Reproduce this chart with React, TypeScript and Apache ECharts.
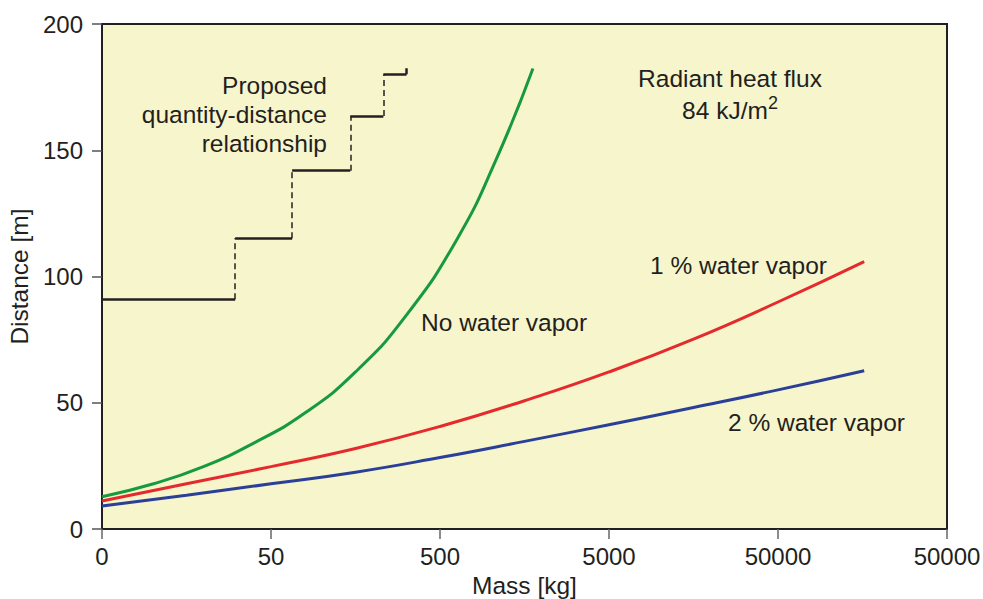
import React, { useEffect, useRef } from "react";
import * as echarts from "echarts";

// x positions are in axis-tick units (evenly spaced log-mass ticks)
const xTickLabels = ["0", "50", "500", "5000", "50000", "50000"];
const yTicks = [0, 50, 100, 150, 200];

const noVaporX = [0, 0.3, 0.6, 0.9, 1.2, 1.5, 1.8, 2.1, 2.33, 2.55];
const noVaporY = [12.8, 17.8, 24.7, 34.1, 45.9, 62.2, 84.6, 114.7, 146.0, 182.4];

const vapor1X = [0, 0.5, 1.0, 1.5, 2.0, 2.5, 3.0, 3.5, 4.0, 4.51];
const vapor1Y = [11.1, 17.9, 24.7, 31.9, 40.6, 50.8, 62.2, 75.2, 89.9, 105.9];

const vapor2X = [0, 0.5, 1.0, 1.5, 2.0, 2.5, 3.0, 3.5, 4.0, 4.51];
const vapor2Y = [9.1, 13.4, 17.9, 22.5, 28.3, 34.7, 41.3, 48.1, 55.1, 62.7];

// proposed quantity-distance step relationship
const stepX = [0, 0.788, 1.125, 1.469, 1.665, 1.802];
const stepY = [91, 115.1, 141.9, 163.6, 180.1];
const stepEndTop = 182.5;

const FONT = "'Liberation Sans', Arial, Helvetica, sans-serif";
const INK = "#231f20";

function zip(xs: number[], ys: number[]) {
  return xs.map((x, i) => [x, ys[i]]);
}

export default function App() {
  const ref = useRef<HTMLDivElement>(null);

  useEffect(() => {
    if (!ref.current) return;
    const chart = echarts.init(ref.current, undefined, { renderer: "svg" });

    const solidSegs: any[] = [];
    const dashSegs: any[] = [];
    for (let i = 0; i < stepY.length; i++) {
      solidSegs.push({ coords: [[stepX[i], stepY[i]], [stepX[i + 1], stepY[i]]] });
      if (i + 1 < stepY.length) {
        dashSegs.push({ coords: [[stepX[i + 1], stepY[i]], [stepX[i + 1], stepY[i + 1]]] });
      }
    }
    const last = stepX[stepX.length - 1];
    solidSegs.push({ coords: [[last, stepY[stepY.length - 1]], [last, stepEndTop]] });

    const textStyle = (extra: any) => ({
      fontFamily: FONT,
      fontSize: 24.5,
      fill: INK,
      ...extra,
    });

    const curve = (xs: number[], ys: number[], color: string) => ({
      type: "line",
      data: zip(xs, ys),
      smooth: true,
      symbol: "none",
      lineStyle: { color, width: 3 },
    });

    chart.setOption({
      animation: false,
      grid: {
        left: 102,
        top: 24,
        right: 36,
        bottom: 70,
        containLabel: false,
        outerBoundsMode: "none",
        show: true,
        backgroundColor: "#f7f5cb",
        borderColor: INK,
        borderWidth: 2,
      },
      xAxis: {
        type: "value",
        min: 0,
        max: 5,
        interval: 1,
        name: "Mass [kg]",
        nameLocation: "middle",
        nameGap: 44,
        nameTextStyle: { fontFamily: FONT, fontSize: 24.5, color: INK },
        axisLine: { lineStyle: { color: INK, width: 2 } },
        axisTick: { show: true, length: 10, lineStyle: { color: "#666", width: 1.5 } },
        axisLabel: {
          margin: 15,
          fontFamily: FONT,
          fontSize: 24,
          color: INK,
          formatter: (v: number) => xTickLabels[Math.round(v)] ?? "",
        },
        splitLine: { show: false },
      },
      yAxis: {
        type: "value",
        min: yTicks[0],
        max: yTicks[yTicks.length - 1],
        interval: 50,
        name: "Distance [m]",
        nameLocation: "middle",
        nameGap: 68,
        nameTextStyle: { fontFamily: FONT, fontSize: 24.5, color: INK },
        axisLine: { show: true, lineStyle: { color: INK, width: 2 } },
        axisTick: { show: true, length: 10, lineStyle: { color: "#555", width: 1.5 } },
        axisLabel: { margin: 19, fontFamily: FONT, fontSize: 24, color: INK },
        splitLine: { show: false },
      },
      series: [
        curve(noVaporX, noVaporY, "#179a3f"),
        curve(vapor1X, vapor1Y, "#e42a2c"),
        curve(vapor2X, vapor2Y, "#2a3f98"),
        {
          type: "lines",
          coordinateSystem: "cartesian2d",
          data: solidSegs,
          lineStyle: { color: INK, width: 2.5, type: "solid", opacity: 1 },
          silent: true,
        },
        {
          type: "lines",
          coordinateSystem: "cartesian2d",
          data: dashSegs,
          lineStyle: { color: INK, width: 1.5, type: [6, 4], opacity: 1 },
          silent: true,
        },
      ],
      graphic: [
        {
          type: "text",
          x: 327,
          y: 114,
          style: textStyle({
            text: "Proposed\nquantity-distance\nrelationship",
            textAlign: "right",
            textVerticalAlign: "middle",
            lineHeight: 29,
          }),
        },
        {
          type: "text",
          x: 730,
          y: 78,
          style: textStyle({
            text: "Radiant heat flux",
            textAlign: "center",
            textVerticalAlign: "middle",
          }),
        },
        {
          type: "text",
          x: 730,
          y: 108,
          style: textStyle({
            text: "{a|84 kJ/m}{s|2}",
            textAlign: "center",
            textVerticalAlign: "middle",
            rich: {
              a: { fontFamily: FONT, fontSize: 24.5, color: INK, lineHeight: 29, verticalAlign: "bottom" },
              s: { fontFamily: FONT, fontSize: 18, color: INK, lineHeight: 18, verticalAlign: "top" },
            },
          }),
        },
        {
          type: "text",
          x: 421,
          y: 322,
          style: textStyle({ text: "No water vapor", textAlign: "left", textVerticalAlign: "middle" }),
        },
        {
          type: "text",
          x: 650,
          y: 265,
          style: textStyle({ text: "1 % water vapor", textAlign: "left", textVerticalAlign: "middle" }),
        },
        {
          type: "text",
          x: 728,
          y: 422,
          style: textStyle({ text: "2 % water vapor", textAlign: "left", textVerticalAlign: "middle" }),
        },
      ],
    });

    return () => chart.dispose();
  }, []);

  return (
    <div
      ref={ref}
      style={{ position: "fixed", left: 0, top: 0, width: 983, height: 599, background: "#ffffff" }}
    />
  );
}
